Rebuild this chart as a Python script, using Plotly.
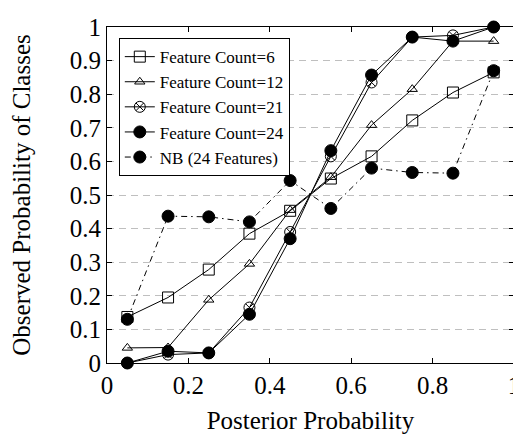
import plotly.graph_objects as go

x_vals = [0.05, 0.15, 0.25, 0.35, 0.45, 0.55, 0.65, 0.75, 0.85, 0.95]
fc6 = [0.137, 0.195, 0.278, 0.385, 0.453, 0.549, 0.615, 0.722, 0.805, 0.865]
fc12 = [0.045, 0.046, 0.188, 0.295, 0.455, 0.553, 0.708, 0.815, 0.958, 0.958]
fc21 = [0.0, 0.025, 0.030, 0.165, 0.390, 0.615, 0.835, 0.970, 0.975, 1.0]
fc24 = [0.0, 0.035, 0.030, 0.145, 0.370, 0.632, 0.857, 0.970, 0.958, 1.0]
nb24 = [0.130, 0.437, 0.435, 0.420, 0.543, 0.460, 0.580, 0.567, 0.565, 0.870]

names = ["Feature Count=6", "Feature Count=12", "Feature Count=21",
         "Feature Count=24", "NB (24 Features)"]
y_ticks = [0, 0.1, 0.2, 0.3, 0.4, 0.5, 0.6, 0.7, 0.8, 0.9, 1]
y_tick_text = ["0", "0.1", "0.2", "0.3", "0.4", "0.5", "0.6", "0.7", "0.8", "0.9", "1"]
x_ticks = [0, 0.2, 0.4, 0.6, 0.8, 1]
x_tick_text = ["0", "0.2", "0.4", "0.6", "0.8", "1"]

series = [
    (fc6, "square-open", 11, "solid"),
    (fc12, "triangle-up-open", 9, "solid"),
    (fc21, "circle-x-open", 11, "solid"),
    (fc24, "circle", 12, "solid"),
    (nb24, "circle", 12, "6px,4px,1.5px,4px"),
]

fig = go.Figure()
for (vals, sym, size, dash), name in zip(series, names):
    fig.add_trace(go.Scatter(
        x=x_vals, y=vals, name=name, mode="lines+markers",
        line=dict(color="black", width=1, dash=dash),
        marker=dict(symbol=sym, size=size, color="black",
                    line=dict(color="black", width=1)),
        cliponaxis=False,
    ))

font_family = "Liberation Serif, Times New Roman, serif"
# page body adds an 8px offset, so the figure is sized to fit the window
fig.update_layout(
    width=513, height=430,
    margin=dict(l=99, r=7, t=19, b=75),
    paper_bgcolor="white", plot_bgcolor="white",
    font=dict(family=font_family, color="black", size=25),
    showlegend=True,
    legend=dict(x=0.029, y=0.967, xanchor="left", yanchor="top",
                bordercolor="black", borderwidth=1, bgcolor="white",
                font=dict(size=17, family=font_family), tracegroupgap=0),
)
fig.update_xaxes(
    range=[0, 1], tickvals=x_ticks, ticktext=x_tick_text,
    showgrid=False, zeroline=False, automargin=False,
    ticklabeloverflow="allow",
    showline=True, linecolor="black", linewidth=1, mirror="ticks",
    ticks="inside", ticklen=5, tickcolor="black",
    title=dict(text="Posterior Probability", font=dict(size=25), standoff=13),
    tickfont=dict(size=25),
)
fig.update_yaxes(
    range=[0, 1], tickvals=y_ticks, ticktext=y_tick_text,
    showgrid=True, gridcolor="#bfbfbf", griddash="7px,5px", gridwidth=1,
    zeroline=False, automargin=False,
    ticklabeloverflow="allow",
    showline=True, linecolor="black", linewidth=1, mirror="ticks",
    ticks="inside", ticklen=5, tickcolor="black",
    title=dict(text="Observed Probability of Classes", font=dict(size=25), standoff=33),
    tickfont=dict(size=25),
)

fig.write_html("out.html")
